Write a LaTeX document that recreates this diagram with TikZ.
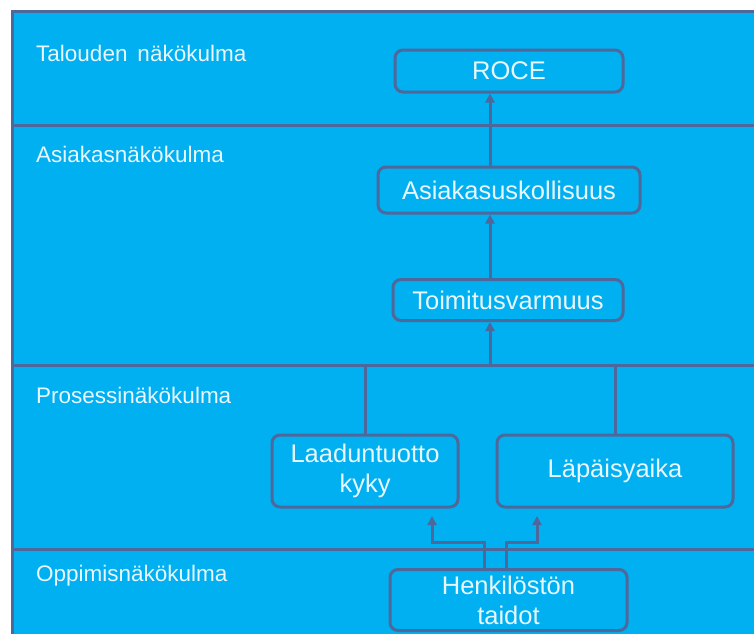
\documentclass[tikz,border=0pt]{standalone}
\usepackage{fontspec}
\setmainfont{Liberation Sans}
\usetikzlibrary{arrows.meta,calc}
\definecolor{bandblue}{RGB}{0,176,240}
\definecolor{slate}{RGB}{78,104,156}
\definecolor{txt}{RGB}{232,246,255}
\tikzset{
  box/.style={draw=slate, line width=3pt, rounded corners=8pt, fill=bandblue,
    text=txt, font=\fontsize{25.5}{30}\selectfont, align=center, inner sep=0pt},
  bandlabel/.style={text=txt, font=\fontsize{22.5}{26}\selectfont, anchor=base west, inner sep=0pt},
  conn/.style={draw=slate, line width=3pt},
  arr/.style={conn, -{Triangle[length=9pt,width=9pt]}},
  divider/.style={draw=slate, line width=3pt}
}
\begin{document}
\begin{tikzpicture}[x=1pt,y=-1pt]
\useasboundingbox (0,0) rectangle (754,633);
\fill[white] (0,0) rectangle (754,633);
\fill[bandblue] (12,11) rectangle (760,640);
\draw[divider] (12,640) -- (12,11) -- (760,11);
\draw[divider] (12,125) -- (760,125);
\draw[divider] (12,365) -- (760,365);
\draw[divider] (12,549) -- (760,549);

\node[bandlabel] (l1) at (36,61) {Talouden\, näkökulma};
\node[bandlabel] (l2) at (36,162) {Asiakasnäkökulma};
\node[bandlabel] (l3) at (36,403) {Prosessinäkökulma};
\node[bandlabel] (l4) at (36,581) {Oppimisnäkökulma};

\node[box, minimum width=228pt, minimum height=42pt] (roce) at (509,71) {ROCE};
\node[box, minimum width=262pt, minimum height=46pt] (asia) at (509,190) {Asiakasuskollisuus};
\node[box, minimum width=230pt, minimum height=41pt] (toim) at (508,300) {Toimitusvarmuus};
\node[box, minimum width=186pt, minimum height=72pt] (laad) at (365,471) {Laaduntuotto\\kyky};
\node[box, minimum width=236pt, minimum height=72pt] (lapa) at (615,471) {Läpäisyaika};
\node[box, minimum width=237pt, minimum height=61pt] (henk) at (508.5,600) {Henkilöstön\\taidot};

\coordinate (spine) at (490,0);
\coordinate (junc) at (490,365);
\coordinate (hl) at (432,542);
\coordinate (hr) at (537,542);
\coordinate (tl) at (432,516);
\coordinate (tr) at (537,516);

\draw[arr] (asia.north -| spine) -- (roce.south -| spine);
\draw[arr] (toim.north -| spine) -- (asia.south -| spine);
\draw[arr] (junc) -- (toim.south -| spine);
\draw[conn] (laad.north) -- (junc -| laad.north) -- (junc -| lapa.north) -- (lapa.north);
\draw[arr] (henk.north -| 484,0) -- (484,542) -- (hl) -- (tl);
\draw[arr] (henk.north -| 506,0) -- (506,542) -- (hr) -- (tr);
\end{tikzpicture}
\end{document}
